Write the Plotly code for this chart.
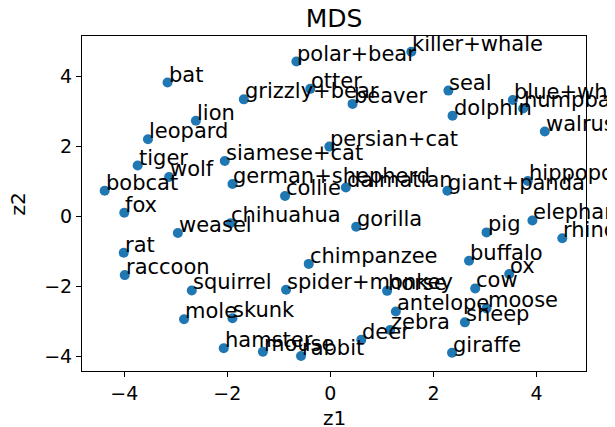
import plotly.graph_objects as go

animals = ["bat", "grizzly+bear", "lion", "leopard", "polar+bear", "killer+whale", "otter",
           "beaver", "persian+cat", "seal", "blue+whale", "humpback+whale", "dolphin", "walrus",
           "tiger", "wolf", "siamese+cat", "german+shepherd", "bobcat", "fox", "chihuahua",
           "weasel", "rat", "collie", "dalmatian", "gorilla", "chimpanzee", "hippopotamus",
           "giant+panda", "elephant", "pig", "rhinoceros", "buffalo", "raccoon", "squirrel",
           "mole", "skunk", "hamster", "mouse", "spider+monkey", "horse", "antelope", "zebra",
           "deer", "rabbit", "ox", "cow", "moose", "sheep", "giraffe"]
z1 = [-3.16, -1.68, -2.61, -3.54, -0.66, 1.57, -0.39,
      0.43, -0.02, 2.29, 3.54, 3.74, 2.37, 4.16,
      -3.74, -3.13, -2.05, -1.90, -4.38, -4.00, -1.94,
      -2.96, -4.01, -0.88, 0.30, 0.50, -0.42, 3.83,
      2.27, 3.92, 3.03, 4.50, 2.69, -3.99, -2.69,
      -2.84, -1.90, -2.07, -1.31, -0.86, 1.10, 1.27, 1.16,
      0.60, -0.57, 3.47, 2.81, 3.03, 2.61, 2.36]
z2 = [3.83, 3.35, 2.74, 2.21, 4.43, 4.71, 3.65,
      3.22, 2.00, 3.60, 3.33, 3.09, 2.88, 2.43,
      1.46, 1.13, 1.59, 0.93, 0.74, 0.11, -0.19,
      -0.47, -1.03, 0.59, 0.83, -0.29, -1.35, 1.02,
      0.74, -0.11, -0.45, -0.62, -1.26, -1.67, -2.11,
      -2.93, -2.90, -3.76, -3.86, -2.09, -2.12, -2.71, -3.24,
      -3.52, -3.98, -1.64, -2.05, -2.62, -3.02, -3.89]

tick_vals = [-4, -2, 0, 2, 4]
FONT = "DejaVu Sans"

fig = go.Figure()
fig.add_trace(go.Scatter(
    x=z1, y=z2, mode="markers",
    marker=dict(color="#1f77b4", size=10, line=dict(width=0)),
    cliponaxis=False, showlegend=False, hoverinfo="text", text=animals))

annotations = []
for name, xv, yv in zip(animals, z1, z2):
    annotations.append(dict(
        x=xv, y=yv, xref="x", yref="y", text=name, showarrow=False,
        xanchor="left", yanchor="bottom", xshift=-1, yshift=-6,
        font=dict(family=FONT, size=21, color="black")))

annotations.append(dict(text="z1", xref="paper", yref="paper", x=0.5, y=-0.14,
                        xanchor="center", yanchor="middle", showarrow=False,
                        font=dict(family=FONT, size=20, color="black")))
annotations.append(dict(text="z2", xref="paper", yref="paper", x=-0.127, y=0.5,
                        xanchor="center", yanchor="middle", showarrow=False, textangle=-90,
                        font=dict(family=FONT, size=20, color="black")))

axis_common = dict(
    showgrid=False, zeroline=False, showline=True, linecolor="black", linewidth=1,
    mirror=True, ticks="outside", ticklen=5, tickcolor="black", tickwidth=1,
    tickfont=dict(family=FONT, size=19, color="black"), tickvals=tick_vals,
    automargin=False,
)

fig.update_layout(
    width=607, height=419,
    margin=dict(l=74, r=29, t=28, b=56),
    paper_bgcolor="white", plot_bgcolor="white",
    title=dict(text="MDS", x=0.5, xref="paper", xanchor="center",
               y=1 - 10.5 / 419, yref="container", yanchor="middle",
               font=dict(family=FONT, size=25, color="black")),
    xaxis=dict(range=[-4.82, 4.96], **axis_common),
    yaxis=dict(range=[-4.41, 5.16], **axis_common),
    annotations=annotations,
)

fig.write_html("out.html")
